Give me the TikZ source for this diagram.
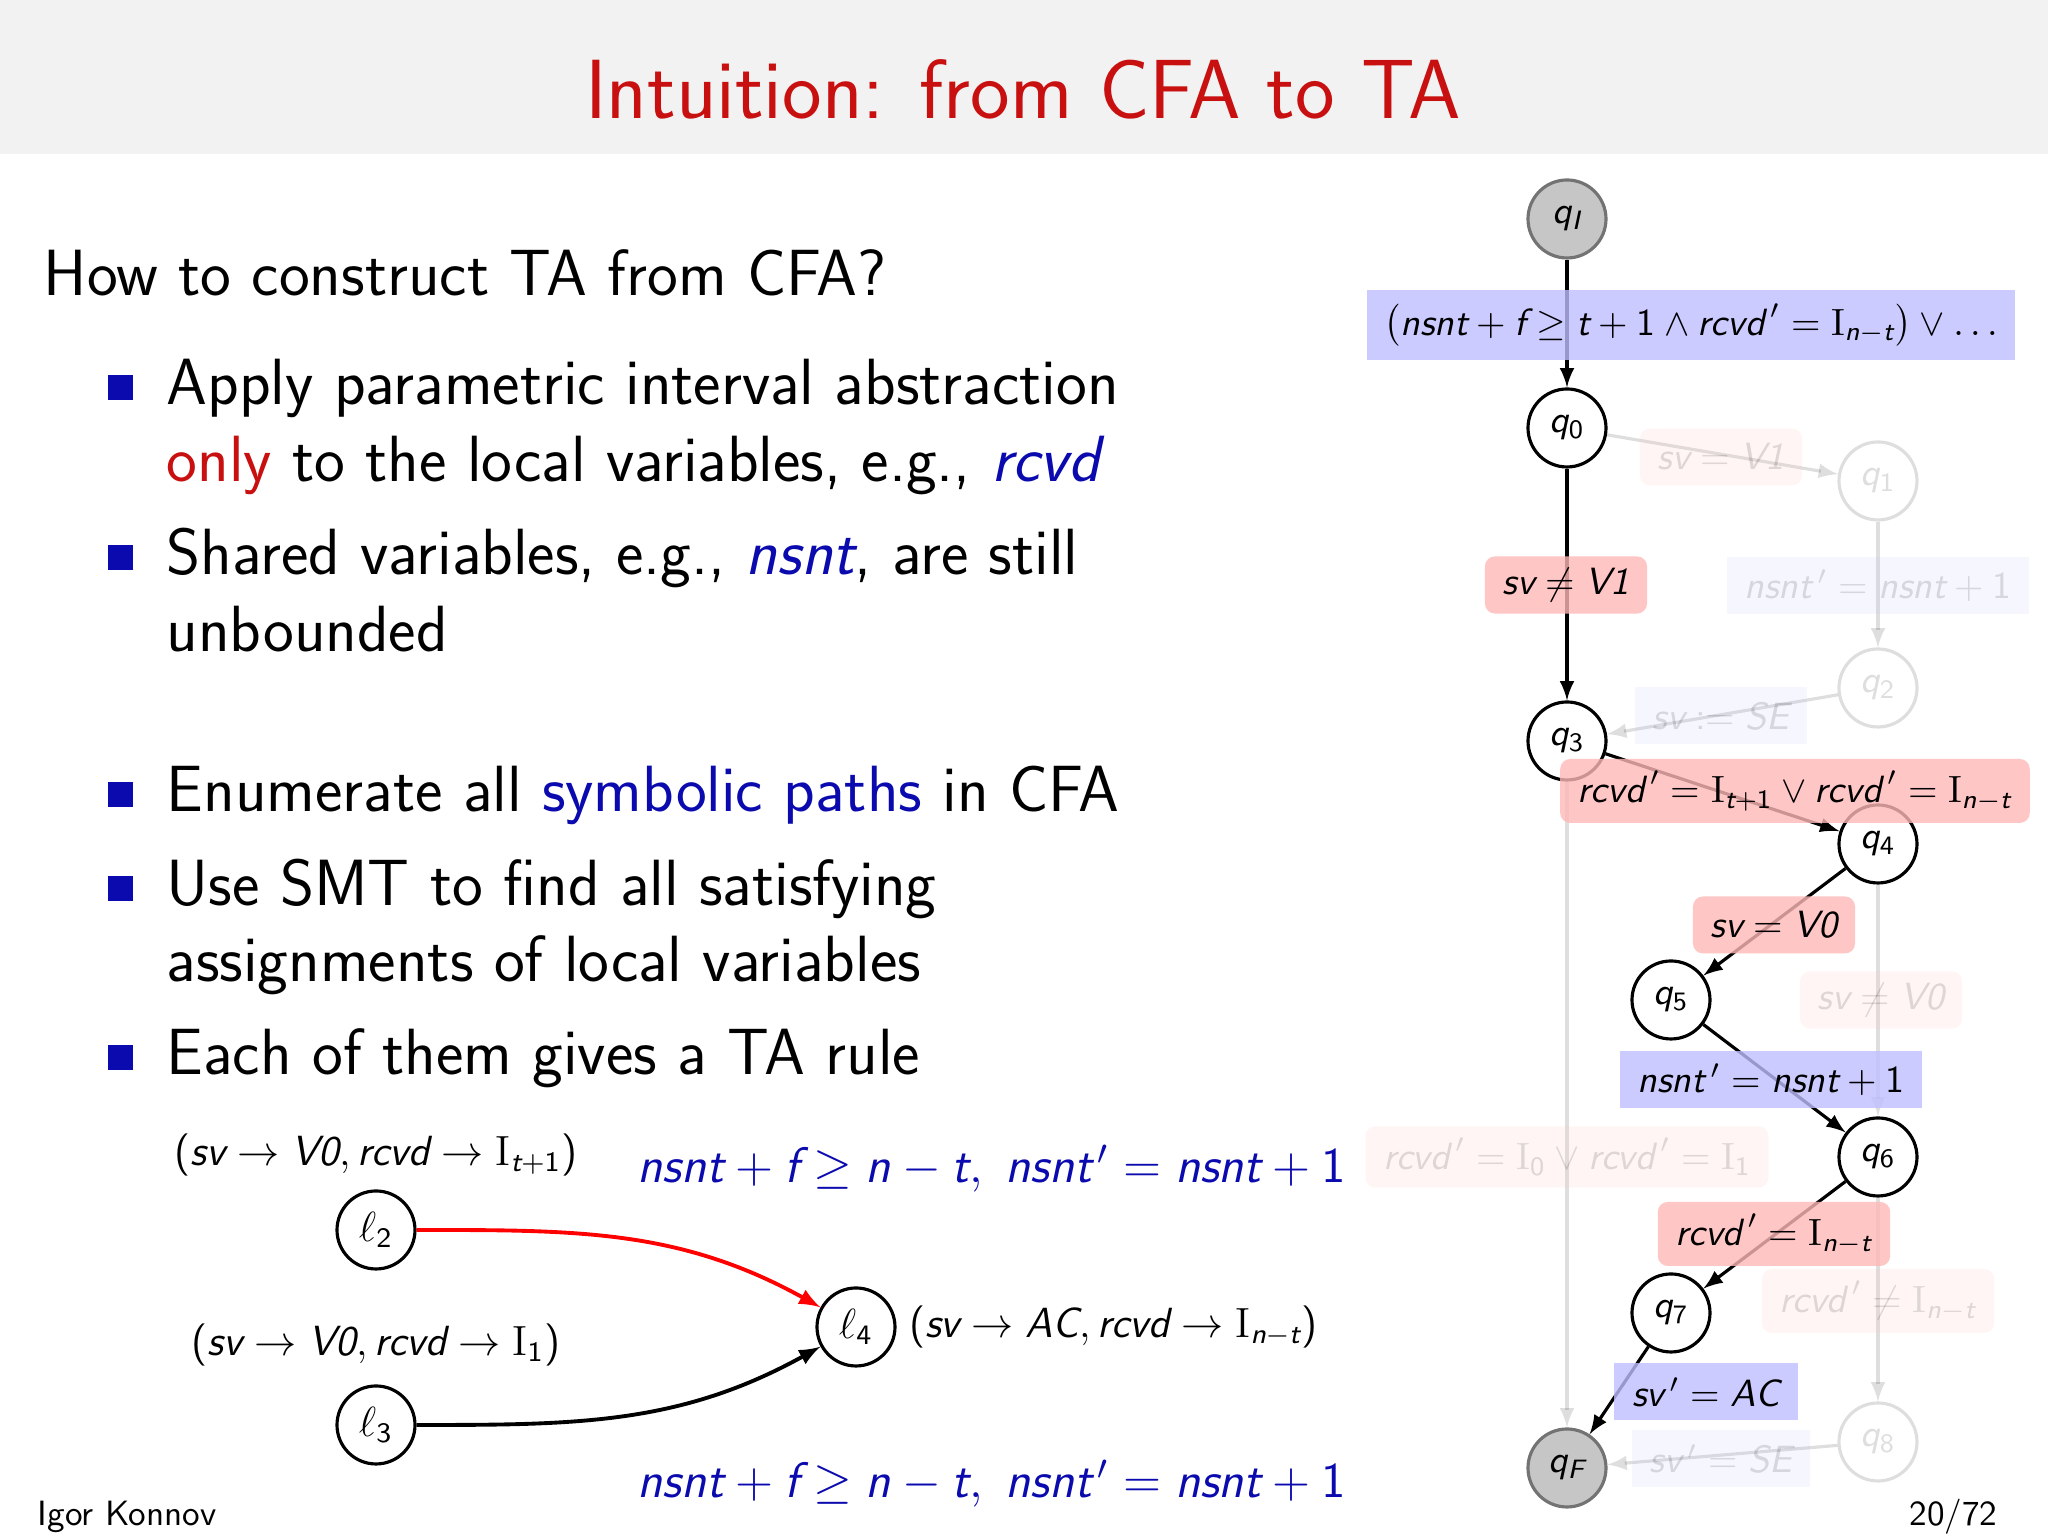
\RequirePackage{fix-cm}
\documentclass[tikz,border=0pt]{standalone}
\usetikzlibrary{positioning}
\DeclareSymbolFont{operators}{TU}{lmss}{m}{n}
\DeclareMathAlphabet{\mathsi}{TU}{lmss}{m}{sl}
\definecolor{slideblue}{RGB}{10,10,175}
\definecolor{slidered}{RGB}{200,16,16}
\definecolor{headgray}{RGB}{242,242,242}
\newcommand{\vr}[1]{\mathsi{#1}}
\newcommand{\nx}[1]{\mathsi{#1}^{\,\prime}}
\newcommand{\Iv}[1]{\textrm{I}_{#1}}

\begin{document}
\begin{tikzpicture}[
		txt/.style={anchor=base west, inner sep=0pt, font=\sffamily\fontsize{18.6}{22}\selectfont},
		bul/.style={fill=slideblue, minimum size=0.25cm, inner sep=0pt},
		state/.style={circle, draw, line width=0.9pt, minimum size=0.78cm, inner sep=0pt, font=\fontsize{10.8}{13}\selectfont},
		endstate/.style={state, fill=gray!45, draw=black!55},
		loc/.style={circle, draw, line width=0.9pt, minimum size=0.78cm, inner sep=0pt, font=\fontsize{12}{14}\selectfont},
		lab/.style={font=\fontsize{12}{14}\selectfont},
		guard/.style={text=slideblue, font=\fontsize{14.2}{17}\selectfont},
		edge/.style={->, >=latex, line width=0.9pt},
		rbox/.style={fill=red!28, fill opacity=0.8, text opacity=1, rounded corners=0.1cm, minimum height=0.57cm, inner xsep=5pt, font=\fontsize{10.8}{13}\selectfont},
		bbox/.style={fill=blue!25, fill opacity=0.8, text opacity=1, minimum height=0.57cm, inner xsep=5pt, font=\fontsize{10.8}{13}\selectfont},
		fade/.style={opacity=0.13, text opacity=0.13}
	]
			%%%%% FRAME %%%%%
			
			\useasboundingbox (0, 0) rectangle (20.48, 15.36);
			\fill[white] (0, 0) rectangle (20.48, 15.36);
			\fill[headgray] (0, 13.82) rectangle (20.48, 15.36);
			
			\node[text=slidered, font=\sffamily\fontsize{23.9}{28}\selectfont] (title) at (10.23, 14.47) {Intuition: from CFA to TA};
			
			\node[anchor=base west, inner sep=0pt, font=\sffamily\fontsize{10}{12}\selectfont] (author) at (0.37, 0.1) {Igor Konnov};
			\node[anchor=base east, inner sep=0pt, font=\sffamily\fontsize{10}{12}\selectfont] (page) at (19.98, 0.1) {20/72};
			
			%%%%% TEXT %%%%%
			
			\node[txt] (how) at (0.43, 12.4) {How to construct TA from CFA?};
			
			\node[bul] (sq1) at (1.2, 11.48) {};
			\node[txt] (b1a) at (1.66, 11.31) {Apply parametric interval abstraction};
			\node[txt] (b1b) at (1.66, 10.54) {\textcolor{slidered}{only} to the local variables, e.g., \textcolor{slideblue}{$\vr{rcvd}$}};
			
			\node[bul] (sq2) at (1.2, 9.78) {};
			\node[txt] (b2a) at (1.66, 9.61) {Shared variables, e.g., \textcolor{slideblue}{$\vr{nsnt}$}, are still};
			\node[txt] (b2b) at (1.66, 8.84) {unbounded};
			
			\node[bul] (sq3) at (1.2, 7.41) {};
			\node[txt] (b3) at (1.66, 7.24) {Enumerate all \textcolor{slideblue}{symbolic paths} in CFA};
			
			\node[bul] (sq4) at (1.2, 6.47) {};
			\node[txt] (b4a) at (1.66, 6.3) {Use SMT to find all satisfying};
			\node[txt] (b4b) at (1.66, 5.54) {assignments of local variables};
			
			\node[bul] (sq5) at (1.2, 4.78) {};
			\node[txt] (b5) at (1.66, 4.61) {Each of them gives a TA rule};
			
			%%%%% RULE %%%%%
			
			\node[loc] (l2) at (3.76, 3.06) {$\ell_2$};
			\node[loc] (l3) at (3.76, 1.11) {$\ell_3$};
			\node[loc] (l4) at (8.56, 2.09) {$\ell_4$};
			
			\node[lab] (l2lab) at (3.76, 3.81) {$(\vr{sv} \to \vr{V0}, \vr{rcvd} \to \Iv{\vr{t}+1})$};
			\node[lab] (l3lab) at (3.76, 1.91) {$(\vr{sv} \to \vr{V0}, \vr{rcvd} \to \Iv{1})$};
			\node[lab, right=0cm of l4] (l4lab) {$(\vr{sv} \to \vr{AC}, \vr{rcvd} \to \Iv{\vr{n}-\vr{t}})$};
			
			\draw[->, >=latex, red, line width=1.1pt] (l2) to[out=0, in=151] (l4);
			\draw[->, >=latex, line width=1.1pt] (l3) to[out=0, in=209] (l4);
			
			\node[guard] (gtop) at (9.92, 3.67) {$\vr{nsnt} + \vr{f} \geq \vr{n} - \vr{t},\; \nx{nsnt} = \vr{nsnt} + 1$};
			\node[guard] (gbot) at (9.92, 0.52) {$\vr{nsnt} + \vr{f} \geq \vr{n} - \vr{t},\; \nx{nsnt} = \vr{nsnt} + 1$};
			
			%%%%% AUTOMATON %%%%%
			
			\node[endstate] (qI) at (15.67, 13.17) {$\vr{q}_{\vr{I}}$};
			\node[state] (q0) at (15.67, 11.08) {$\vr{q}_0$};
			\node[state, fade] (q1) at (18.78, 10.55) {$\vr{q}_1$};
			\node[state, fade] (q2) at (18.78, 8.48) {$\vr{q}_2$};
			\node[state] (q3) at (15.67, 7.95) {$\vr{q}_3$};
			\node[state] (q4) at (18.78, 6.92) {$\vr{q}_4$};
			\node[state] (q5) at (16.71, 5.36) {$\vr{q}_5$};
			\node[state] (q6) at (18.78, 3.79) {$\vr{q}_6$};
			\node[state] (q7) at (16.71, 2.23) {$\vr{q}_7$};
			\node[state, fade] (q8) at (18.78, 0.94) {$\vr{q}_8$};
			\node[endstate] (qF) at (15.67, 0.68) {$\vr{q}_{\vr{F}}$};
			
			\draw[edge, fade] (q0) -- (q1);
			\draw[edge, fade] (q1) -- (q2);
			\draw[edge, fade] (q2) -- (q3);
			\draw[edge, fade] (q3) -- (qF);
			\draw[edge, fade] (q4) -- (q6);
			\draw[edge, fade] (q6) -- (q8);
			\draw[edge, fade] (q8) -- (qF);
			
			\draw[edge] (qI) -- (q0);
			\draw[edge] (q0) -- (q3);
			\draw[edge] (q3) -- (q4);
			\draw[edge] (q4) -- (q5);
			\draw[edge] (q5) -- (q6);
			\draw[edge] (q6) -- (q7);
			\draw[edge] (q7) -- (qF);
			
			\node[bbox, minimum height=0.7cm] (gI0) at (16.91, 12.11) {$\big(\vr{nsnt} + \vr{f} \geq \vr{t} + 1 \wedge \nx{rcvd} = \Iv{\vr{n}-\vr{t}}\big) \vee \ldots$};
			\node[rbox] (g03) at (15.66, 9.51) {$\vr{sv} \neq \vr{V1}$};
			\node[rbox, fade] (g01) at (17.21, 10.79) {$\vr{sv} = \vr{V1}$};
			\node[bbox, fade] (g12) at (18.78, 9.5) {$\nx{nsnt} = \vr{nsnt} + 1$};
			\node[bbox, fade] (g23) at (17.21, 8.2) {$\vr{sv} \mathrel{:=} \vr{SE}$};
			\node[rbox] (g34) at (17.95, 7.45) {$\nx{rcvd} = \Iv{\vr{t}+1} \vee \nx{rcvd} = \Iv{\vr{n}-\vr{t}}$};
			\node[rbox, fade] (g3F) at (15.67, 3.79) {$\nx{rcvd} = \Iv{0} \vee \nx{rcvd} = \Iv{1}$};
			\node[rbox] (g45) at (17.74, 6.11) {$\vr{sv} = \vr{V0}$};
			\node[rbox, fade] (g46) at (18.81, 5.36) {$\vr{sv} \neq \vr{V0}$};
			\node[bbox] (g56) at (17.71, 4.56) {$\nx{nsnt} = \vr{nsnt} + 1$};
			\node[rbox] (g67) at (17.74, 3.02) {$\nx{rcvd} = \Iv{\vr{n}-\vr{t}}$};
			\node[rbox, fade] (g68) at (18.78, 2.35) {$\nx{rcvd} \neq \Iv{\vr{n}-\vr{t}}$};
			\node[bbox] (g7F) at (17.06, 1.44) {$\nx{sv} = \vr{AC}$};
			\node[bbox, fade] (g8F) at (17.21, 0.77) {$\nx{sv} = \vr{SE}$};
			
			%%%%% END %%%%%
\end{tikzpicture}
\end{document}
